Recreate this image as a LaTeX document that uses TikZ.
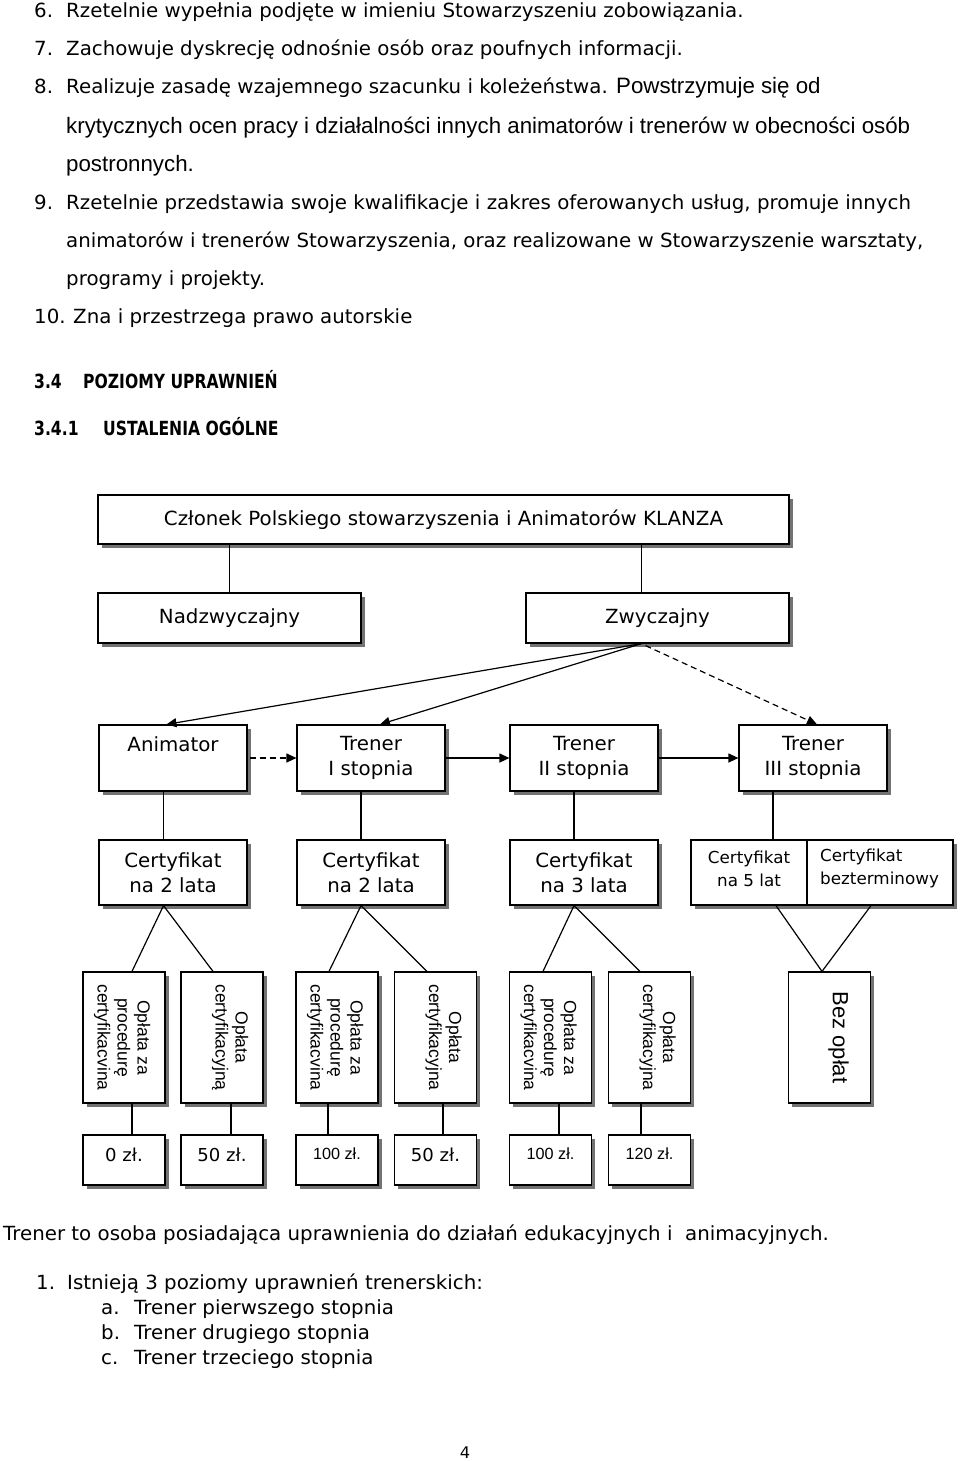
\documentclass[tikz,border=0pt]{standalone}
\usepackage{fontspec}
\setmainfont{DejaVu Sans}[FakeStretch=1.016]
\newfontfamily\headf{DejaVu Sans}[FakeStretch=0.8]
\newfontfamily\arialf{Liberation Sans}
\usetikzlibrary{shadows,arrows.meta,calc}
\newcommand\bodyf{\fontsize{19.5}{24.5}\selectfont}
\newcommand\smallf{\fontsize{16.5}{23}\selectfont}
\begin{document}
\begin{tikzpicture}[x=1pt,y=-1pt,
  every node/.style={inner sep=0pt, font=\bodyf},
  txt/.style={anchor=base west},
  box/.style={draw, line width=1.2pt, fill=white, align=center,
    drop shadow={shadow xshift=3.5pt, shadow yshift=-3.5pt, fill=black!55, opacity=1}},
  conn/.style={line width=1.2pt},
  arr/.style={conn, -{Triangle[length=10pt,width=9pt]}},
  dsh/.style={dash pattern=on 6pt off 4pt},
  rot/.style={rotate=-90, anchor=north, align=center, font=\arialf\fontsize{17.5}{20}\selectfont},
  price/.style={font=\fontsize{17.8}{20}\selectfont},
  pricea/.style={font=\arialf\fontsize{16.2}{18}\selectfont}]
\fill[white] (0,0) rectangle (960,1461);
\useasboundingbox (0,0) rectangle (960,1461);

% ---- top text ----
\node[txt] (l6) at (34,18) {\makebox[32pt][l]{6.}Rzetelnie wypełnia podjęte w imieniu Stowarzyszeniu zobowiązania.};
\node[txt] (l7) at (34,56) {\makebox[32pt][l]{7.}Zachowuje dyskrecję odnośnie osób oraz poufnych informacji.};
\node[txt] (l8) at (34,94) {\makebox[32pt][l]{8.}Realizuje zasadę wzajemnego szacunku i koleżeństwa. {\arialf\fontsize{22.3}{24}\selectfont Powstrzymuje się od}};
\node[txt, font=\arialf\fontsize{22.3}{24}\selectfont] (l8b) at (66,133) {krytycznych ocen pracy i działalności innych animatorów i trenerów w obecności osób};
\node[txt, font=\arialf\fontsize{22.3}{24}\selectfont] (l8c) at (66,171) {postronnych.};
\node[txt] (l9) at (34,209) {\makebox[32pt][l]{9.}Rzetelnie przedstawia swoje kwalifikacje i zakres oferowanych usług, promuje innych};
\node[txt] (l9b) at (66,247) {animatorów i trenerów Stowarzyszenia, oraz realizowane w Stowarzyszenie warsztaty,};
\node[txt] (l9c) at (66,285) {programy i projekty.};
\node[txt] (l10) at (34,323) {\makebox[39pt][l]{10.}Zna i przestrzega prawo autorskie};

\node[txt, font=\headf\bodyf\bfseries] (h34) at (34,388) {\makebox[49pt][l]{3.4}POZIOMY UPRAWNIEŃ};
\node[txt, font=\headf\bodyf\bfseries] (h341) at (34,435) {\makebox[69pt][l]{3.4.1}USTALENIA OGÓLNE};

% ---- chart boxes ----
\node[box, minimum width=691pt, minimum height=49pt] (top) at (443.5,519.5) {Członek Polskiego stowarzyszenia i Animatorów KLANZA};
\node[box, minimum width=263pt, minimum height=50pt] (nadz) at (229.5,618) {Nadzwyczajny};
\node[box, minimum width=263pt, minimum height=50pt] (zwy) at (657.5,618) {Zwyczajny};

\node[box, minimum width=148pt, minimum height=66pt] (anim) at (173,758) {Animator\\\phantom{I stopnia}};
\node[box, minimum width=148pt, minimum height=66pt] (t1) at (371,758) {Trener\\I stopnia};
\node[box, minimum width=148pt, minimum height=66pt] (t2) at (584,758) {Trener\\II stopnia};
\node[box, minimum width=148pt, minimum height=66pt] (t3) at (813,758) {Trener\\III stopnia};

\node[box, minimum width=148pt, minimum height=65pt] (c1) at (173,872.5) {Certyfikat\\na 2 lata};
\node[box, minimum width=148pt, minimum height=65pt] (c2) at (371,872.5) {Certyfikat\\na 2 lata};
\node[box, minimum width=148pt, minimum height=65pt] (c3) at (584,872.5) {Certyfikat\\na 3 lata};
\node[box, minimum width=116pt, minimum height=65pt] (c5) at (749,872.5) {};
\node[box, minimum width=146pt, minimum height=65pt] (cb) at (880,872.5) {};
\node[font=\smallf, align=center] (c5t) at (749,868.5) {Certyfikat\\na 5 lat};
\node[font=\smallf, align=left, anchor=west] (cbt) at (820,868.5) {Certyfikat\\bezterminowy};

\foreach \n/\cx in {o1/124,o2/222,o3/337,o4/435.5,o5/550.5,o6/649.5,o7/829.5}{
  \node[box, minimum width=82pt, minimum height=131pt] (\n) at (\cx,1037.5) {};
}
\foreach \n/\cx in {p1/124,p2/222,p3/337,p4/435.5,p5/550.5,p6/649.5}{
  \node[box, minimum width=82pt, minimum height=50pt] (\n) at (\cx,1160) {};
}

\node[rot] (o1t) at ([xshift=-15pt]o1.east) {Opłata za\\procedurę\\certyfikacvina};
\node[rot] (o2t) at ([xshift=-15pt]o2.east) {Opłata\\certyfikacyjną};
\node[rot] (o3t) at ([xshift=-15pt]o3.east) {Opłata za\\procedurę\\certyfikacvina};
\node[rot] (o4t) at ([xshift=-15pt]o4.east) {Opłata\\certyfikacyjna};
\node[rot] (o5t) at ([xshift=-15pt]o5.east) {Opłata za\\procedurę\\certyfikacvina};
\node[rot] (o6t) at ([xshift=-15pt]o6.east) {Opłata\\certyfikacyjna};
\node[rot, font=\arialf\fontsize{22}{24}\selectfont] (o7t) at ([xshift=-22pt]o7.east) {Bez opłat};

\node[price] (p1t) at (124,1155) {0 zł.};
\node[price] (p2t) at (222,1155) {50 zł.};
\node[pricea] (p3t) at (337,1153.5) {100 zł.};
\node[price] (p4t) at (435.5,1155) {50 zł.};
\node[pricea] (p5t) at (550.5,1153.5) {100 zł.};
\node[pricea] (p6t) at (649.5,1153.5) {120 zł.};

% ---- connectors ----
\coordinate (zn) at ([xshift=-16pt]zwy.north);
\draw[conn] (top.south -| nadz.north) -- (nadz.north);
\draw[conn] (top.south -| zn) -- (zn);
\coordinate (zs) at ([xshift=-16pt]zwy.south);
\draw[arr] (zs) -- ([xshift=-6.5pt]anim.north);
\draw[arr] (zs) -- ([xshift=9pt]t1.north);
\draw[arr, dsh] ([xshift=4pt,yshift=-2pt]zs) -- ([xshift=4pt]t3.north);
\draw[arr, dsh] ([xshift=2pt]anim.east) -- (t1.west);
\draw[arr] (t1.east) -- (t2.west);
\draw[arr] (t2.east) -- (t3.west);

\draw[conn] ([xshift=-9.5pt]anim.south) -- ([xshift=-9.5pt]c1.north);
\draw[conn] ([xshift=-10pt]t1.south) -- ([xshift=-10pt]c2.north);
\draw[conn] ([xshift=-10pt]t2.south) -- ([xshift=-10pt]c3.north);
\coordinate (t3b) at ([xshift=-40pt]t3.south);
\draw[conn] (t3b) -- (t3b |- c5.north);

\draw[conn] ([xshift=8pt]o1.north) -- ([xshift=-9.5pt]c1.south) -- ([xshift=-9pt]o2.north);
\draw[conn] ([xshift=-8pt]o3.north) -- ([xshift=-10pt]c2.south) -- ([xshift=-8.5pt]o4.north);
\draw[conn] ([xshift=-7.5pt]o5.north) -- ([xshift=-10pt]c3.south) -- ([xshift=-9.5pt]o6.north);
\draw[conn] ([xshift=27pt]c5.south) -- ([xshift=-7.5pt]o7.north) -- ([xshift=-9pt]cb.south);

\draw[conn] ([xshift=8pt]o1.south) -- ([xshift=8pt]p1.north);
\draw[conn] ([xshift=9pt]o2.south) -- ([xshift=9pt]p2.north);
\draw[conn] ([xshift=-9pt]o3.south) -- ([xshift=-9pt]p3.north);
\draw[conn] ([xshift=7.5pt]o4.south) -- ([xshift=7.5pt]p4.north);
\draw[conn] ([xshift=8.5pt]o5.south) -- ([xshift=8.5pt]p5.north);
\draw[conn] ([xshift=-8.5pt]o6.south) -- ([xshift=-8.5pt]p6.north);

% ---- bottom text ----
\node[txt] (b0) at (3,1240) {Trener to osoba posiadająca uprawnienia do działań edukacyjnych i \ animacyjnych.};
\node[txt] (b1) at (36,1289) {\makebox[31pt][l]{1.}Istnieją 3 poziomy uprawnień trenerskich:};
\node[txt] (ba) at (101,1314) {\makebox[33pt][l]{a.}Trener pierwszego stopnia};
\node[txt] (bb) at (101,1339) {\makebox[33pt][l]{b.}Trener drugiego stopnia};
\node[txt] (bc) at (101,1364) {\makebox[33pt][l]{c.}Trener trzeciego stopnia};
\node[anchor=base, font=\fontsize{16}{18}\selectfont] (pg) at (465,1458) {4};
\end{tikzpicture}
\end{document}
